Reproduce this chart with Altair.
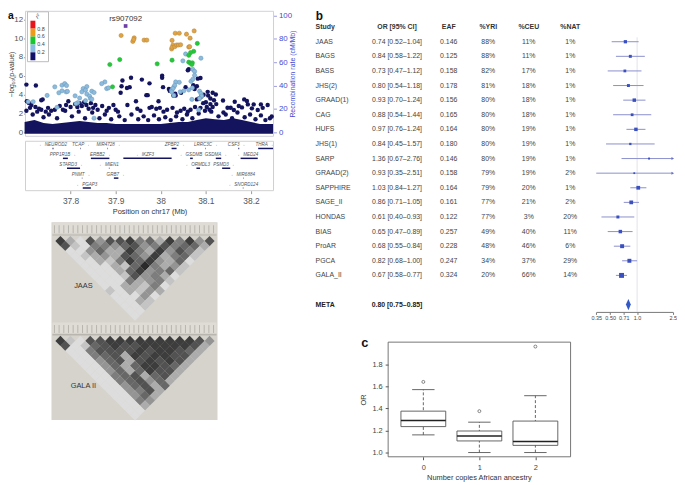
import altair as alt
import pandas as pd

W, H = 677, 477
FONT = "Liberation Sans"
NAVY = "#14145e"
GREY = "#555555"

# ---------- panel a: regional association ----------
lead_snp = [(37.922, 11.29)]
orange_pts = [(37.912,10.28),(37.941,10.03),(37.938,9.65),(37.940,9.85),(37.963,9.79),(37.969,9.79),(38.025,9.76),
              (38.032,10.52),(38.041,10.52),(38.057,10.42),(38.065,10.0),(38.074,10.77),(38.027,9.27),(38.024,8.85),
              (38.025,9.02),(38.031,9.09),(38.035,9.27),(38.039,9.27),(38.044,9.30),(38.062,9.06),(38.064,9.09)]
green_pts = [(37.887,7.20),(37.909,7.73),(37.992,7.27),(38.025,7.66),(37.893,4.83),(38.081,9.44),(38.073,8.60),
             (38.066,8.46),(38.062,8.18),(38.062,7.45),(38.066,7.34),(38.070,7.38),(38.069,7.20)]
blue_pts = [(37.706,3.25),(37.717,3.25),(37.748,3.92),(37.765,4.83),(37.774,4.2),(37.781,4.41),(37.781,5.0),(37.787,5.17),
            (37.791,4.97),(37.790,4.3),(37.793,4.34),(37.770,2.66),(37.810,3.88),(37.820,3.64),(37.816,3.15),(37.812,3.04),
            (37.828,4.65),(37.836,4.86),(37.825,4.3),(37.833,4.48),(37.836,4.06),(37.842,3.85),(37.844,3.6),(37.847,4.37),
            (37.852,4.23),(37.847,3.53),(37.833,3.36),(37.852,1.5),(37.876,5.35),(37.869,5.17),(37.880,4.65),(37.884,4.72),
            (38.024,4.48),(38.029,4.83),(38.033,5.35),(38.041,5.31),(38.031,5.0),(38.027,4.65),(38.024,4.3),(38.029,3.92),
            (38.043,4.3),(38.051,4.41),(38.067,5.42),(38.062,4.51),(38.070,4.72),(38.086,4.37),(38.089,4.13),(38.091,3.85),
            (38.069,3.5),(38.086,3.6),(38.084,2.38),(38.049,7.59),(38.055,8.32),(38.089,7.87),(38.071,6.68),(38.075,6.47),
            (38.075,6.05),(38.071,5.63)]
navy_pts = [(37.702,5.07),(37.723,4.97),(37.738,3.5),(37.735,3.4),(37.703,3.3),(37.708,3.1),(37.713,2.9),(37.710,2.6),
            (37.722,2.7),(37.730,2.5),(37.735,2.4),(37.745,2.2),(37.757,2.3),(37.750,2.6),(37.765,2.4),(37.776,2.8),
            (37.783,2.4),(37.790,2.9),(37.795,3.3),(37.800,2.7),(37.810,3.0),(37.815,2.7),(37.820,3.1),(37.825,2.8),
            (37.830,3.2),(37.835,2.9),(37.840,2.5),(37.845,3.1),(37.850,2.6),(37.855,2.9),(37.860,2.4),(37.870,2.8),
            (37.880,2.3),(37.885,2.6),(37.895,2.9),(37.900,2.4),(37.905,2.2),(37.911,4.2),(37.913,4.9),(37.915,5.5),
            (37.925,4.7),(37.931,4.8),(37.934,5.8),(37.926,2.9),(37.945,3.3),(37.948,2.5),(37.958,5.6),(37.975,5.2),
            (37.968,3.95),(37.971,3.95),(37.955,2.3),(37.975,2.6),(37.980,2.7),(37.990,2.5),(37.995,3.3),(37.998,2.6),
            (38.005,4.8),(38.003,5.8),(38.003,6.0),(38.018,4.6),(38.020,4.4),(38.028,3.9),(38.032,4.1),(38.033,3.9),
            (38.045,4.2),(38.055,4.8),(38.062,6.7),(38.060,6.6),(38.072,5.0),(38.075,4.6),(38.082,5.7),(38.080,4.9),
            (38.080,3.5),(38.085,3.6),(38.090,3.8),(38.095,4.0),(38.104,4.3),(38.115,4.2),(38.122,4.02),(38.088,5.77),
            (38.073,4.86),(38.105,3.9),(38.110,3.6),(38.100,3.2),(38.110,3.0),(38.118,3.4),(38.123,3.0),(38.115,2.7),
            (38.138,3.39),(38.164,3.25),(38.185,3.5),(38.191,3.32),(38.193,2.97),(38.206,2.97),(38.222,2.97),(38.237,2.9),
            (38.226,2.6),(38.215,2.38),(38.202,2.55),(38.180,2.65),(38.173,2.8),(38.155,2.62),(38.148,2.62),(38.139,2.1),
            (38.162,2.38),(38.246,1.68),(38.094,3.1),(38.102,2.7),(38.108,2.4),(38.098,2.3),(38.088,2.6),(38.076,2.7),
            (38.066,2.4),(38.060,2.2),(38.052,2.5),(38.044,2.3),(38.036,2.1),(38.026,2.6),(38.014,2.4),(38.006,2.2),
            (37.702,2.3),(37.716,1.9),(37.726,2.2),(37.740,1.6),(37.752,1.9),(37.770,1.5),(37.788,2.3),(37.803,1.7),
            (37.818,2.2),(37.832,1.5),(37.848,2.1),(37.864,1.5),(37.876,1.9),(37.890,1.4),(37.908,1.7),(37.920,1.3),
            (37.935,1.9),(37.950,1.4),(37.962,1.7),(37.972,1.3),(37.985,1.8),(37.996,1.4),(38.010,1.6),(38.022,1.3),
            (38.034,1.7),(38.048,1.4),(38.058,1.9),(38.070,1.5),(38.084,2.0),(38.112,2.2),(38.128,1.7),(38.144,1.9),
            (38.158,1.5),(38.170,2.1),(38.186,1.6),(38.198,1.9),(38.210,1.4),(38.222,1.8),(38.232,1.3),(38.242,1.5)]
cloud_mb = [37.698,37.72,37.74,37.76,37.78,37.80,37.82,37.84,37.86,37.88,37.90,37.92,37.94,37.96,37.98,38.00,
            38.02,38.04,38.06,38.08,38.10,38.12,38.14,38.16,38.18,38.20,38.22,38.249]
cloud_top = [1.1,1.3,1.0,0.9,1.0,1.1,1.2,1.1,1.0,1.0,0.9,0.9,0.9,0.9,0.9,0.9,1.0,1.1,1.1,1.3,1.5,1.4,1.3,1.5,1.3,1.1,0.9,0.9]

r2_low = [0.8, 0.6, 0.4, 0.2, 0.0]
r2_high = [1.0, 0.8, 0.6, 0.4, 0.2]
r2_colors = ["#e8141c", "#f09a1a", "#19c62e", "#88bde0", "#10106a"]
r2_ticks = [0.8, 0.6, 0.4, 0.2]

gene_names = ["\u2190 NEUROD2","TCAP \u2192","MIR4728 \u2192","ZPBP2 \u2192","LRRC3C \u2192","CSF3 \u2192","THRA \u2192",
              "PPP1R1B \u2192","ERBB2 \u2192","\u2190 IKZF3","\u2190 GSDMB","GSDMA \u2192","\u2190 MED24",
              "STARD3 \u2192","\u2190 MIEN1","\u2190 ORMDL3","PSMD3 \u2192","PNMT \u2192","GRB7 \u2192","\u2190 MIR6884",
              "\u2190 PGAP3","\u2190 SNORD124"]
gene_label_mb = [37.761,37.823,37.884,38.031,38.100,38.168,38.230,37.783,37.866,37.965,38.067,38.122,38.193,
                 37.801,37.885,38.082,38.140,37.823,37.900,38.182,37.836,38.183]
gene_row = [0,0,0,0,0,0,0,1,1,1,1,1,1,2,2,2,2,3,3,3,4,4]
gene_start = [37.760,37.821,37.882,38.024,38.099,38.172,38.216,37.783,37.845,37.917,38.065,38.122,38.177,
              37.792,37.885,38.079,38.136,37.825,37.896,38.183,37.827,38.182]
gene_end = [37.762,37.822,37.883,38.035,38.100,38.174,38.249,37.794,37.886,38.024,38.071,38.134,38.215,
            37.821,37.886,38.087,38.154,37.826,37.906,38.184,37.845,38.183]

# ---------- panel b: forest plot ----------
studies = ["JAAS","BAGS","BASS","JHS(2)","GRAAD(1)","CAG","HUFS","JHS(1)","SARP","GRAAD(2)","SAPPHIRE","SAGE_II",
           "HONDAS","BIAS","ProAR","PGCA","GALA_II"]
or_val = [0.74,0.84,0.73,0.80,0.93,0.88,0.97,0.84,1.36,0.93,1.03,0.86,0.61,0.65,0.68,0.82,0.67]
or_low = [0.52,0.58,0.47,0.54,0.70,0.54,0.76,0.45,0.67,0.35,0.84,0.71,0.40,0.47,0.55,0.68,0.58]
or_high = [1.04,1.22,1.12,1.18,1.24,1.44,1.24,1.57,2.76,2.51,1.27,1.05,0.93,0.89,0.84,1.00,0.77]
eaf = ["0.146","0.125","0.158","0.178","0.156","0.165","0.164","0.180","0.146","0.158","0.164","0.161","0.122",
       "0.257","0.228","0.247","0.324"]
yri = ["88%","88%","82%","81%","80%","80%","80%","80%","80%","79%","79%","77%","77%","49%","48%","34%","20%"]
ceu = ["11%","11%","17%","18%","18%","18%","19%","19%","19%","19%","20%","21%","3%","40%","46%","37%","66%"]
nat = ["1%","1%","1%","1%","1%","1%","1%","1%","1%","2%","1%","2%","20%","11%","6%","29%","14%"]
weights = [3.3,3.0,2.8,3.0,3.5,2.8,3.5,2.3,2.0,1.8,3.8,3.8,3.0,3.5,4.0,4.0,5.0]
meta = (0.80, 0.75, 0.85)
meta_row = 18
forest_ticks = [0.35, 0.50, 0.71, 1.0, 2.5]

# ---------- panel c: box plot ----------
box_pos = [0, 1, 2]
box_q1 = [1.235, 1.105, 1.065]
box_med = [1.29, 1.15, 1.10]
box_q3 = [1.375, 1.195, 1.285]
box_lo = [1.16, 1.00, 1.00]
box_hi = [1.57, 1.275, 1.515]
box_out = [1.64, 1.375, 1.96]

# ---------- LD triangles (grey level 0-9 by distance from the top row) ----------
ld_jaas = [[8,3,1,7,4,7,7,8,5,6,3,8,5,8,4,7],[7,2,1,5,5,4,6,7,4,5,7,5,6,6,3],[1,1,4,6,3,3,8,5,3,8,4,7,5,2],
           [1,2,3,4,3,7,6,4,8,3,5,6,2],[1,1,3,2,5,8,6,8,4,3,6,1],[1,1,1,3,2,6,9,5,3,4,2],[1,1,1,3,6,8,4,5,6,2],
           [1,1,1,2,7,4,5,3,1],[1,1,1,5,3,4,5,2],[1,1,3,3,2,5,1],[2,1,3,2,4,3],[1,1,1,4,1],[1,1,3,2],[1,1,2],[1,1],[1]]
ld_gala = [[8,2,1,7,7,8,8,8,8,8,8,8,8,8,7,4],[7,1,2,6,7,8,7,7,8,8,8,8,8,7,3],[1,1,5,7,7,7,7,8,7,8,8,7,6,3],
           [1,1,5,6,7,3,8,7,8,8,7,7,3],[1,1,4,6,7,3,7,8,7,8,7,3],[1,1,4,6,3,6,8,8,7,6,3],[1,1,4,6,3,6,8,7,7,3],
           [1,1,5,6,7,3,6,7,3],[1,1,5,6,7,4,6,3],[1,1,4,6,7,3,6],[1,1,4,5,7,3],[1,1,4,6,3],[1,1,5,4],[1,1,3],[1,1],[1]]
snp_index = [0,1,2,3,4,5,6,7,8,9,10,11,12,13,14,15,16,17,18,19,20,21,22,23,24,25,26,27,28,29,30,31,32,33,34]

blank = alt.Data(values=[{}])


def label(text, x, y, size=7, color="#444444", **kw):
    return alt.Chart(blank).mark_text(text=text, font=FONT, fontSize=size, color=color, **kw).encode(
        x=alt.value(x), y=alt.value(y))


def shape(x, x2, y, y2, **kw):
    return alt.Chart(blank).mark_rect(**kw).encode(x=alt.value(x), x2=alt.value(x2), y=alt.value(y), y2=alt.value(y2))


layers = []

# panel a scales
AX = alt.Scale(domain=[37.70, 38.25], range=[17.7, 268.7], nice=False, zero=False)
AY = alt.Scale(domain=[-0.42, 12.9], range=[127, 0], nice=False, zero=False)


def pts(rows):
    return pd.DataFrame(rows, columns=["mb", "p"])


xa = alt.X("mb:Q", scale=AX, axis=None)
ya = alt.Y("p:Q", scale=AY, axis=None)

layers.append(shape(17.7, 268.7, 0.5, 127, fillOpacity=0, stroke="#cfcfdc", strokeWidth=1))
layers.append(
    alt.Chart(pd.DataFrame({"r": [0, 100]})).mark_rule(opacity=0).encode(
        y=alt.Y("r:Q", scale=alt.Scale(domain=[-3.38, 104], range=[127, 0], nice=False, zero=False),
                axis=alt.Axis(orient="right", offset=268.7 - W, values=[0, 20, 40, 60, 80, 100], grid=False,
                              domain=False, tickColor="#9a9ae0", tickSize=3, labelColor="#4a4ad0", labelFont=FONT,
                              labelFontSize=8, title="Recombination rate (cM/Mb)", titleColor="#4a4ad0",
                              titleFont=FONT, titleFontSize=7, titleFontWeight="normal", titleAngle=270,
                              titlePadding=4))))
layers.append(
    alt.Chart(pd.DataFrame({"mb": cloud_mb, "top": cloud_top, "base": [-0.15] * len(cloud_mb)})).mark_area(color=NAVY)
    .encode(x=xa, y=alt.Y("top:Q", scale=AY, axis=None), y2="base:Q"))
layers.append(
    alt.Chart(pts(navy_pts)).mark_circle(size=20, color=NAVY, opacity=1).encode(
        x=xa,
        y=alt.Y("p:Q", scale=AY,
                axis=alt.Axis(orient="left", offset=-17.7, values=[0, 2, 4, 6, 8, 10, 12], grid=False,
                              domain=False, tickColor="#999999", tickSize=2, labelColor=GREY, labelFont=FONT,
                              labelFontSize=8, labelPadding=1, title="\u2212log\u2081\u2080(p-value)", titleColor="#333333",
                              titleFont=FONT, titleFontSize=7, titleFontWeight="normal", titleX=-10.7, titleY=64))))
for rows, fill, stroke in [(blue_pts, "#8ebbdc", "#6a9cc0"), (green_pts, "#26c83a", "#26b03a"),
                           (orange_pts, "#e2a340", "#b88a40")]:
    layers.append(alt.Chart(pts(rows)).mark_circle(size=18, color=fill, stroke=stroke, strokeWidth=0.6, opacity=1)
                  .encode(x=xa, y=ya))
layers.append(alt.Chart(pts(lead_snp)).mark_point(shape="square", filled=True, size=14, color="#6f3fa8", opacity=1)
              .encode(x=xa, y=ya))
layers.append(alt.Chart(pd.DataFrame({"mb": [lead_snp[0][0]], "p": [12.0]})).mark_text(
    text="rs907092", font=FONT, fontSize=8, color="#333333").encode(x=xa, y=ya))

# r2 key
RX = alt.Scale(domain=[0, 1], range=[22.7, 27.7], nice=False, zero=False)
RY = alt.Scale(domain=[0, 1], range=[50, 10], nice=False, zero=False)
layers.append(shape(19.7, 41, 1, 51.5, fill="white", stroke="#bbbbbb", strokeWidth=1))
layers.append(
    alt.Chart(pd.DataFrame({"lo": r2_low, "hi": r2_high, "c": r2_colors, "a": [0] * 5, "b": [1] * 5})).mark_rect()
    .encode(x=alt.X("a:Q", scale=RX, axis=None), x2="b:Q",
            y=alt.Y("lo:Q", scale=RY, axis=None), y2="hi:Q",
            color=alt.Color("c:N", scale=None)))
layers.append(
    alt.Chart(pd.DataFrame({"v": r2_ticks, "x": [1.4] * 4})).mark_text(
        font=FONT, fontSize=5.5, color="#444444", align="left").encode(
        x=alt.X("x:Q", scale=RX, axis=None), y=alt.Y("v:Q", scale=RY, axis=None), text=alt.Text("v:Q", format=".1f")))
layers.append(label("r\u00b2", 30, 5.5, size=6, fontStyle="italic", angle=315))

# genes
GY = alt.Scale(domain=[-0.4, 4.6], range=[132, 182], nice=False, zero=False)
genes = pd.DataFrame({"name": gene_names, "lab": gene_label_mb, "row": gene_row, "s": gene_start, "e": gene_end})
genes["bar"] = genes["row"] + 0.33
layers.append(shape(17.7, 268.7, 132, 182, fillOpacity=0, stroke="#cfcfcf", strokeWidth=1))
layers.append(alt.Chart(genes).mark_rule(color=NAVY, strokeWidth=1.5).encode(
    x=alt.X("s:Q", scale=AX,
            axis=alt.Axis(orient="bottom", offset=182 - H, values=[37.8, 37.9, 38.0, 38.1, 38.2], format=".4~f",
                          grid=False, domain=False, tickColor="#999999", tickSize=3, labelColor=GREY, labelFont=FONT,
                          labelFontSize=8.5, labelPadding=3, title="Position on chr17 (Mb)", titleColor="#333333",
                          titleFont=FONT, titleFontSize=7.5, titleFontWeight="normal", titlePadding=3, labelFlush=False,
                          labelExpr="datum.value == 38 ? '38' : format(datum.value, '.1f')")),
    x2="e:Q", y=alt.Y("bar:Q", scale=GY, axis=None)))
layers.append(alt.Chart(genes).mark_text(font=FONT, fontSize=4.6, fontStyle="italic", color="#555555").encode(
    x=alt.X("lab:Q", scale=AX, axis=None), y=alt.Y("row:Q", scale=GY, axis=None), text="name:N"))

# LD panels
layers.append(shape(44, 212, 214, 414, fill="#d6d3cc"))
LX = alt.Scale(domain=[0, 16], range=[48, 209], nice=False, zero=False)
SX = alt.Scale(domain=[0, 34], range=[47, 208], nice=False, zero=False)
GS = alt.Scale(domain=[0, 9], range=["#f6f6f6", "#2a2a2a"])
for mat, rng, strip_top, text, ty in [(ld_jaas, [228, 308.5], 214, "JAAS", 279),
                                      (ld_gala, [329, 409.5], 315, "GALA II", 380)]:
    rows = [{"c": i + d / 2 + 0.5, "d": d, "v": v} for d, row in enumerate(mat) for i, v in enumerate(row)]
    layers.append(alt.Chart(pd.DataFrame(rows)).mark_point(shape="diamond", filled=True, size=104, opacity=1).encode(
        x=alt.X("c:Q", scale=LX, axis=None),
        y=alt.Y("d:Q", scale=alt.Scale(domain=[-1, 15], range=rng, nice=False, zero=False), axis=None),
        color=alt.Color("v:Q", scale=GS, legend=None)))
    layers.append(shape(45, 211, strip_top + 0.5, strip_top + 11, fill="#dfdcd6"))
    layers.append(alt.Chart(pd.DataFrame({"i": snp_index})).mark_rule(color="#a5a39c", strokeWidth=0.7).encode(
        x=alt.X("i:Q", scale=SX, axis=None), y=alt.value(strip_top + 3), y2=alt.value(strip_top + 11)))
    layers.append(shape(45, 211, strip_top + 12.5, strip_top + 13.2, fill="#9c9a94"))
    layers.append(label(text, 76.3, ty, size=7.5, color="#333333"))

# panel b table
FY = alt.Scale(domain=[-1, 18], range=[16.5, 297.3], nice=False, zero=False)
FX = alt.Scale(type="log", domain=[0.35, 2.5], range=[595.3, 672.7], nice=False, clamp=True)
or_text = [f"{m:.2f} [{a:.2f}\u2013{b:.2f}]" for m, a, b in zip(or_val, or_low, or_high)]
tbl = pd.DataFrame({"row": list(range(17)), "study": studies, "ortxt": or_text, "eaf": eaf, "yri": yri, "ceu": ceu,
                    "nat": nat, "or": or_val, "lo": or_low, "hi": or_high, "w": weights})
ry = alt.Y("row:Q", scale=FY, axis=None)
for field, head, px, align in [("study", "Study", 311.3, "left"), ("ortxt", "OR [95% CI]", 393.7, "center"),
                               ("eaf", "EAF", 446, "center"), ("yri", "%YRI", 486, "center"),
                               ("ceu", "%CEU", 527, "center"), ("nat", "%NAT", 569, "center")]:
    layers.append(alt.Chart(tbl).mark_text(font=FONT, fontSize=7, color="#444444", align=align).encode(
        x=alt.value(px), y=ry, text=f"{field}:N"))
    layers.append(alt.Chart(pd.DataFrame({"row": [-1], "t": [head]})).mark_text(
        font=FONT, fontSize=7, fontWeight="bold", color="#333333", align=align).encode(
        x=alt.value(px), y=ry, text="t:N"))
layers.append(alt.Chart(pd.DataFrame({"row": [meta_row], "t": ["META"]})).mark_text(
    font=FONT, fontSize=7, fontWeight="bold", color="#222222", align="left").encode(
    x=alt.value(311.3), y=ry, text="t:N"))
layers.append(alt.Chart(pd.DataFrame({"row": [meta_row], "t": [f"{meta[0]:.2f} [{meta[1]:.2f}\u2013{meta[2]:.2f}]"]})).mark_text(
    font=FONT, fontSize=7, fontWeight="bold", color="#222222").encode(
    x=alt.value(393.7), y=ry, text="t:N"))

# forest marks
layers.append(alt.Chart(pd.DataFrame({"or": [1.0], "row": [-0.3], "end": [18.5]})).mark_rule(
    color="#dcdce4", strokeWidth=0.8).encode(
    x=alt.X("or:Q", scale=FX,
            axis=alt.Axis(orient="bottom", offset=304.7 - H, values=forest_ticks, grid=False, domainColor="#777777",
                          tickColor="#777777", tickSize=2.5, labelColor="#444444", labelFont=FONT, labelFontSize=5.5,
                          labelPadding=1.5, title=None, labelFlush=False, labelOverlap=False,
                          labelExpr="datum.value < 0.9 ? format(datum.value, '.2f') : format(datum.value, '.1f')")),
    y=ry, y2="end:Q"))
layers.append(alt.Chart(tbl).mark_rule(color="#8a8ecc", strokeWidth=1).encode(
    x=alt.X("lo:Q", scale=FX, axis=None), x2="hi:Q", y=ry))
layers.append(alt.Chart(tbl).mark_point(shape="square", filled=True, color="#3a50c0", opacity=1).encode(
    x=alt.X("or:Q", scale=FX, axis=None), y=ry,
    size=alt.Size("w:Q", scale=alt.Scale(type="pow", exponent=2, domain=[0, 5], range=[0, 25]), legend=None)))
layers.append(alt.Chart(tbl[tbl["hi"] > 2.5]).mark_point(shape="triangle-right", filled=True, color="#6a70c0", size=9, opacity=1)
              .encode(x=alt.X("hi:Q", scale=FX, axis=None), y=ry))
layers.append(alt.Chart(pd.DataFrame({"or": [meta[1], meta[0], meta[2]], "a": [meta_row, meta_row - 0.38, meta_row],
                                      "b": [meta_row, meta_row + 0.38, meta_row]})).mark_area(color="#3358c8").encode(
    x=alt.X("or:Q", scale=FX, axis=None), y=alt.Y("a:Q", scale=FY, axis=None), y2="b:Q"))

# panel c
CX = alt.Scale(domain=[-0.628, 2.628], range=[384.7, 569.3], nice=False, zero=False)
CY = alt.Scale(domain=[0.9615, 2.0], range=[451.3, 335.3], nice=False, zero=False)
box = pd.DataFrame({"pos": box_pos, "q1": box_q1, "med": box_med, "q3": box_q3, "lo": box_lo, "hi": box_hi,
                    "out": box_out})
box["l"] = box["pos"] - 0.4
box["r"] = box["pos"] + 0.4
box["cl"] = box["pos"] - 0.2
box["cr"] = box["pos"] + 0.2
xc = alt.X("pos:Q", scale=CX, axis=None)
yc = alt.Y("q1:Q", scale=CY, axis=None)
layers.append(shape(384.7, 569.3, 335.3, 451.3, fillOpacity=0, stroke="#666666", strokeWidth=0.9))
layers.append(alt.Chart(box).mark_rule(color="#555555", strokeWidth=0.9, strokeDash=[3, 2]).encode(
    x=alt.X("pos:Q", scale=CX,
            axis=alt.Axis(orient="bottom", offset=451.3 - H, values=[0, 1, 2], format="d", grid=False, domain=False,
                          tickColor="#555555", tickSize=3, labelColor="#444444", labelFont=FONT, labelFontSize=7.5,
                          labelPadding=4, title=None)),
    y=alt.Y("lo:Q", scale=CY,
            axis=alt.Axis(orient="left", offset=-384.7, values=[1.0, 1.2, 1.4, 1.6, 1.8], format=".1f", grid=False,
                          domain=False, tickColor="#555555", tickSize=3, labelColor="#444444", labelFont=FONT,
                          labelFontSize=7.5, labelPadding=3, title="OR", titleColor="#333333", titleFont=FONT,
                          titleFontSize=7.5, titleFontWeight="normal", titlePadding=4)),
    y2="hi:Q"))
for f in ["lo", "hi"]:
    layers.append(alt.Chart(box).mark_rule(color="#555555", strokeWidth=0.9).encode(
        x=alt.X("cl:Q", scale=CX, axis=None), x2="cr:Q", y=alt.Y(f"{f}:Q", scale=CY, axis=None)))
layers.append(alt.Chart(box).mark_rect(fill="white", stroke="#555555", strokeWidth=0.9).encode(
    x=alt.X("l:Q", scale=CX, axis=None), x2="r:Q", y=yc, y2="q3:Q"))
layers.append(alt.Chart(box).mark_rule(color="#222222", strokeWidth=1.6).encode(
    x=alt.X("l:Q", scale=CX, axis=None), x2="r:Q", y=alt.Y("med:Q", scale=CY, axis=None)))
layers.append(alt.Chart(box).mark_point(shape="circle", size=9, color="#555555", strokeWidth=0.7, opacity=1).encode(
    x=xc, y=alt.Y("out:Q", scale=CY, axis=None)))
layers.append(label("Number copies African ancestry", 477, 473, size=7.5, color="#333333"))

# panel letters
layers.append(label("a", 0, 5.5, size=10.5, color="#111111", fontWeight="bold", align="left"))
layers.append(label("b", 315, 5.5, size=12, color="#111111", fontWeight="bold"))
layers.append(label("c", 361, 336, size=13, color="#111111", fontWeight="bold"))

chart = alt.layer(*layers).resolve_scale(x="independent", y="independent", color="independent", size="independent").properties(
    width=W, height=H, padding=0, autosize=alt.AutoSizeParams(type="none"),
    background="white").configure_view(stroke=None)

chart.save("out.html", embed_options={"renderer": "svg", "actions": False})
